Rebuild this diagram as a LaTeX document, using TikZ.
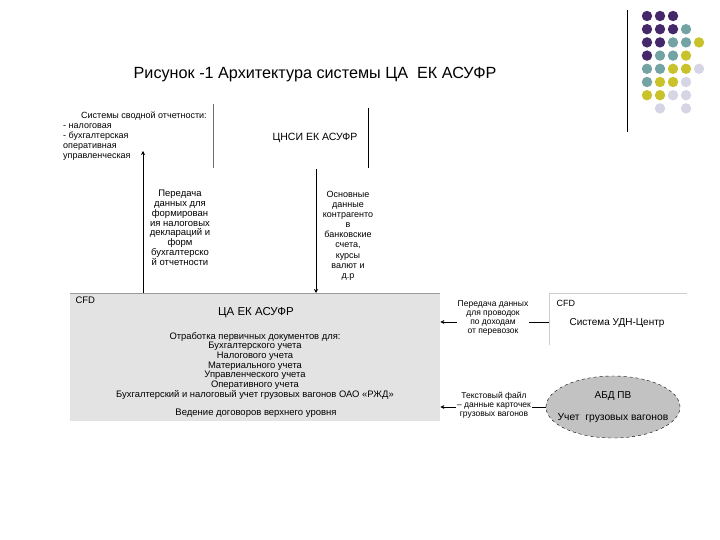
\documentclass[tikz,border=0pt]{standalone}
\usepackage{fontspec}
\setmainfont{Liberation Sans}
\usetikzlibrary{arrows.meta,positioning,shapes.geometric,calc}
\definecolor{Plum}{HTML}{45286A}
\definecolor{Sage}{HTML}{74A3A4}
\definecolor{Olive}{HTML}{C9C22A}
\definecolor{Lilac}{HTML}{D5D5E5}
\definecolor{Panel}{HTML}{E3E3E3}
\definecolor{Rule}{HTML}{9A9A9A}
\definecolor{Stone}{HTML}{C2C2C2}

\tikzset{
  small/.style={font=\fontsize{8.5}{9.2}\selectfont, align=center, inner sep=1pt},
  note/.style={small, fill=white},
  flow/.style={-{Stealth[length=4pt,width=4pt]}, line width=0.8pt},
}

\begin{document}
\begin{tikzpicture}[x=1pt,y=-1pt]
  \useasboundingbox (0,0) rectangle (720,540);

  % dots in the corner
  \draw[line width=0.8pt] (627,10) -- (627,132);
  \foreach \c/\r in {0/0,1/0,2/0,0/1,1/1,2/1,0/2,1/2,0/3}
    \fill[Plum] (647+13*\c,16+13.2*\r) circle (5.2);
  \foreach \c/\r in {3/1,2/2,3/2,1/3,2/3,0/4,1/4,0/5}
    \fill[Sage] (647+13*\c,16+13.2*\r) circle (5.2);
  \foreach \c/\r in {4/2,3/3,2/4,3/4,1/5,2/5,0/6,1/6}
    \fill[Olive] (647+13*\c,16+13.2*\r) circle (5.2);
  \foreach \c/\r in {4/4,3/5,2/6,3/6,1/7,3/7}
    \fill[Lilac] (647+13*\c,16+13.2*\r) circle (5.2);

  \node[font=\fontsize{16.2}{19}\selectfont] (title) at (315,75) {Рисунок -1 Архитектура системы ЦА\ \ ЕК АСУФР};

  % upper systems
  \node[small, font=\fontsize{9}{10}\selectfont, align=left, anchor=north west] (reports) at (62,111)
    {\hspace*{18pt}Системы сводной отчетности:\\- налоговая\\- бухгалтерская\\ оперативная\\ управленческая};
  \draw[Rule!70!black, line width=0.8pt] (213,104) -- (213,168);
  \node[font=\fontsize{10.5}{12}\selectfont] (nsi) at (315,138) {ЦНСИ ЕК АСУФР};
  \draw[line width=0.8pt] (368,108) -- (368,168);

  % main block
  \node[fill=Panel, minimum width=370pt, minimum height=128pt, anchor=north west, inner sep=0pt] (cfd) at (70,293) {};
  \draw[Rule] (cfd.north west) -- (cfd.north east);
  \node[font=\fontsize{9.5}{10}\selectfont, anchor=west] (cfdtag) at (72,300) {CFD};
  \node[font=\fontsize{11.5}{13}\selectfont] (asufr) at (256,313) {ЦА ЕК АСУФР};
  \node[font=\fontsize{9.4}{9.7}\selectfont, align=center, anchor=north, inner sep=0pt] (tasks) at (255,332)
    {Отработка первичных документов для:\\Бухгалтерского учета\\Налогового учета\\Материального учета\\Управленческого учета\\Оперативного учета\\Бухгалтерский и налоговый учет грузовых вагонов ОАО «РЖД»};
  \node[font=\fontsize{9.5}{10}\selectfont] (deals) at (256,413) {Ведение договоров верхнего уровня};

  % vertical flows
  \coordinate (up) at (143,151);
  \coordinate (down) at (316,169);
  \draw[flow] (up |- cfd.north) -- (up);
  \draw[flow] (down) -- (down |- cfd.north);
  \node[small, font=\fontsize{9.5}{9.8}\selectfont, anchor=north] (taxdata) at (180,189)
    {Передача\\данных для\\формирован\\ия налоговых\\деклараций и\\форм\\бухгалтерско\\й отчетности};
  \node[small, font=\fontsize{9}{10.1}\selectfont, anchor=north] (cpdata) at (348,190)
    {Основные\\данные\\контрагенто\\в\\банковские\\счета,\\курсы\\валют и\\д.р};

  % right side
  \node[minimum width=138pt, minimum height=52pt, anchor=north west, inner sep=0pt] (udn) at (549,293) {};
  \draw[Rule!50] (udn.south west) -- (udn.north west) -- (udn.north east);
  \node[font=\fontsize{9}{10}\selectfont, anchor=west] (udntag) at (553,303) {CFD};
  \node[font=\fontsize{10}{11}\selectfont] (udnname) at (617,323) {Система УДН-Центр};
  \coordinate (udnin) at (549,322);
  \draw[flow] (udnin) -- (udnin -| cfd.east);
  \node[note] (income) at (493,318) {Передача данных\\для проводок\\по доходам\\от перевозок};

  \node[ellipse, draw, dashed, fill=Stone, minimum width=134pt, minimum height=62pt] (abd) at (613,407) {};
  \node[font=\fontsize{10}{11}\selectfont] (abdname) at (613,396) {АБД ПВ};
  \node[font=\fontsize{10.3}{11}\selectfont] (abdtask) at (613,418) {Учет\ \ грузовых вагонов};
  \draw[flow] (abd.west) -- (abd.west -| cfd.east);
  \node[note] (cards) at (494,405) {Текстовый файл\\– данные карточек\\грузовых вагонов};
\end{tikzpicture}
\end{document}
